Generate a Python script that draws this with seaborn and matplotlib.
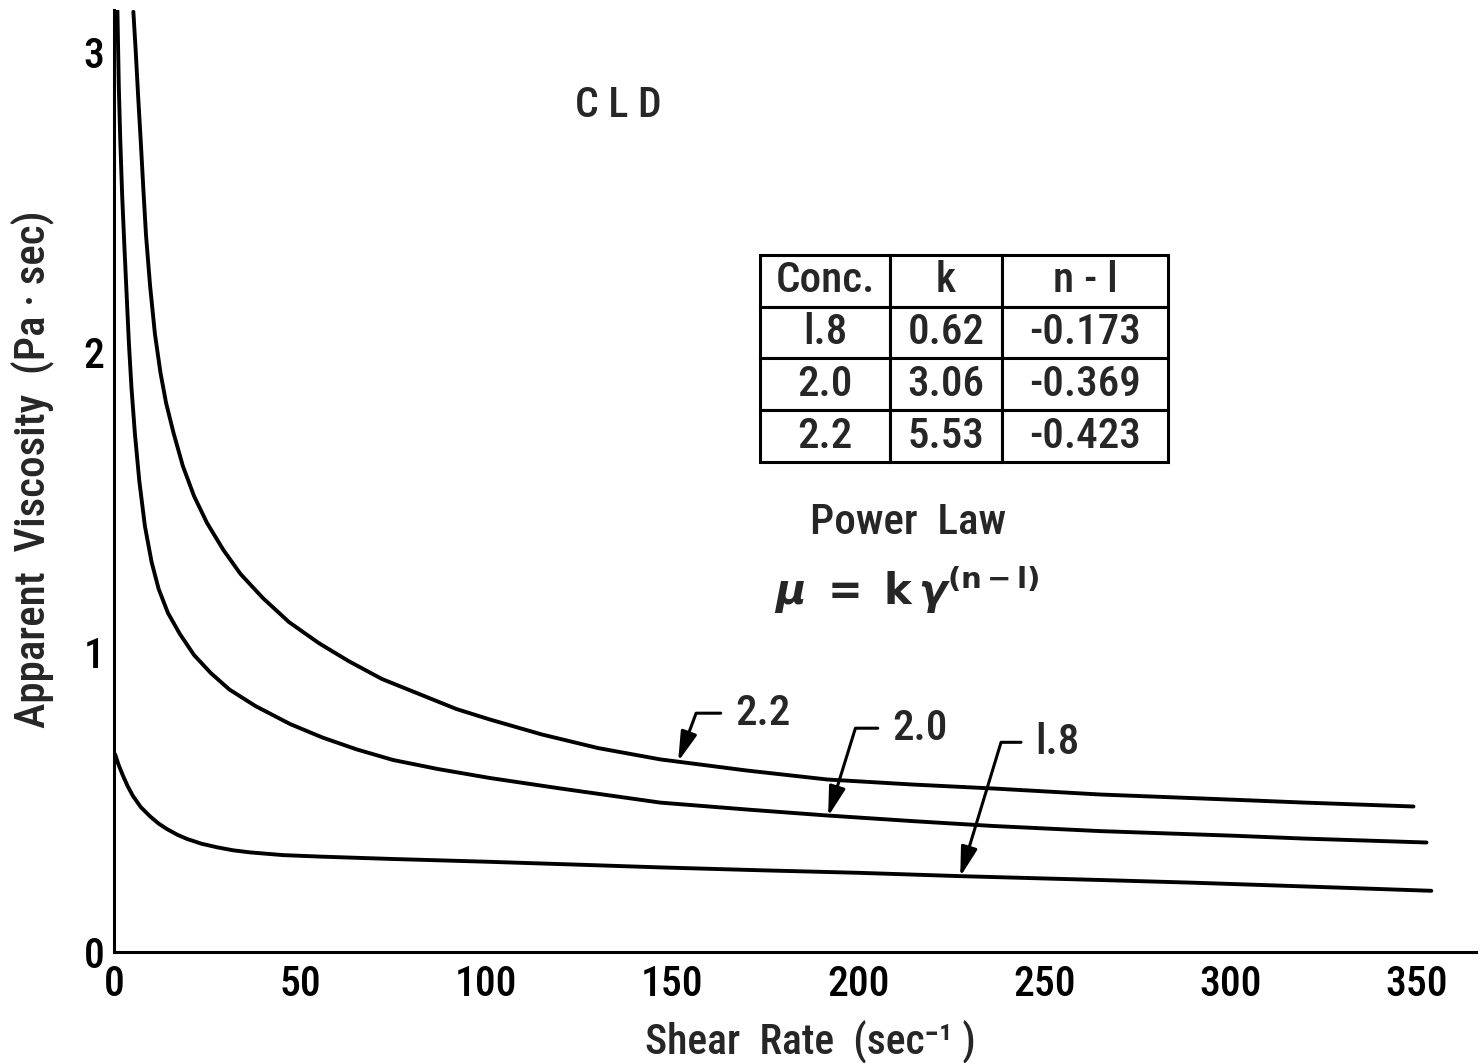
import numpy as np
import pandas as pd
import matplotlib
matplotlib.use("Agg")
import matplotlib.pyplot as plt
import seaborn as sns
from matplotlib import font_manager as fm

# ---------------- data ----------------
shear_22 = [5.2, 5.8, 6.5, 7.2, 7.9, 8.6, 9.7, 11.0, 12.5, 14.0, 16.0, 18.5, 21.5,
            25.0, 29.4, 34, 40, 47, 55, 63, 72, 82, 92, 101, 115, 130, 146.8, 170,
            191.7, 215, 236.3, 265, 300, 320, 349.2]
visc_22 = [3.134, 3.011, 2.85, 2.70, 2.54, 2.39, 2.22, 2.06, 1.93, 1.83, 1.73, 1.62,
           1.52, 1.43, 1.34, 1.26, 1.18, 1.10, 1.03, 0.97, 0.91, 0.86, 0.81, 0.775,
           0.725, 0.68, 0.642, 0.605, 0.575, 0.558, 0.545, 0.525, 0.508, 0.498, 0.485]

shear_20 = [0.9, 1.3, 1.7, 2.2, 2.8, 3.4, 4.0, 4.7, 5.6, 6.8, 8.3, 10.1, 12.0, 14.5,
            17.7, 21.5, 26, 31, 38, 47.3, 56, 65.3, 75, 87, 101, 120, 146.8, 170,
            191.7, 215, 236.3, 265, 300, 320, 352.7]
visc_20 = [3.15, 2.88, 2.70, 2.52, 2.35, 2.19, 2.03, 1.88, 1.73, 1.57, 1.42, 1.30,
           1.21, 1.13, 1.06, 0.99, 0.93, 0.875, 0.82, 0.76, 0.715, 0.675, 0.64, 0.61,
           0.58, 0.545, 0.498, 0.475, 0.455, 0.436, 0.420, 0.403, 0.388, 0.378, 0.365]

shear_18 = [0.3, 1.2, 2.4, 3.7, 5.1, 7.2, 9.7, 12, 14.2, 17, 19.6, 23.5, 27.7, 32,
            36.6, 45.4, 55.4, 75, 100, 125, 146.8, 175, 200, 227, 265, 290, 318.8, 354]
visc_18 = [0.659, 0.625, 0.588, 0.552, 0.520, 0.483, 0.452, 0.428, 0.410, 0.391,
           0.377, 0.361, 0.349, 0.339, 0.332, 0.323, 0.318, 0.310, 0.301, 0.291,
           0.282, 0.272, 0.264, 0.253, 0.240, 0.231, 0.219, 0.204]

x_ticks = [0, 50, 100, 150, 200, 250, 300, 350]
y_ticks = [0, 1, 2, 3]

table_header = ["Conc.", "k", "n - l"]
table_conc = ["l.8", "2.0", "2.2"]
table_k = ["0.62", "3.06", "5.53"]
table_n = ["-0.173", "-0.369", "-0.423"]

curve_labels = ["2.2", "2.0", "l.8"]
label_shear = [166.9, 209.1, 247.6]
label_visc = [0.796, 0.746, 0.699]
tip_shear = [151.6, 191.9, 227.4]
tip_visc = [0.635, 0.452, 0.251]
leader_angle = [69.6, 72.8, 73.1]

# ---------------- style ----------------
sns.set_style("white")
cands = ["Liberation Sans Narrow", "Roboto Condensed", "DejaVu Sans"]
avail = {f.name for f in fm.fontManager.ttflist}
FONT = next(f for f in cands if f in avail)
narrow = FONT != "DejaVu Sans"
FS = 30 if narrow else 25
weights = {str(f.weight) for f in fm.fontManager.ttflist if f.name == FONT}
if "500" in weights or "medium" in weights:
    WEIGHT = "medium"
elif "600" in weights or "semibold" in weights:
    WEIGHT = "semibold"
else:
    WEIGHT = "bold"

plt.rcParams["font.family"] = [FONT, "DejaVu Sans"]
plt.rcParams["font.weight"] = WEIGHT
plt.rcParams["axes.labelweight"] = WEIGHT
plt.rcParams["mathtext.fontset"] = "dejavusans"
plt.rcParams["mathtext.default"] = "it"

fig = plt.figure(figsize=(14.8, 10.63), dpi=100)
ax = fig.add_axes([114 / 1480, 111 / 1063, 1362 / 1480, 942 / 1063])

df = pd.concat([
    pd.DataFrame({"shear": shear_18, "visc": visc_18, "conc": "1.8"}),
    pd.DataFrame({"shear": shear_20, "visc": visc_20, "conc": "2.0"}),
    pd.DataFrame({"shear": shear_22, "visc": visc_22, "conc": "2.2"}),
], ignore_index=True)

sns.lineplot(data=df, x="shear", y="visc", hue="conc",
             palette={"1.8": "black", "2.0": "black", "2.2": "black"},
             linewidth=2.8, legend=False, sort=False, estimator=None, ax=ax)

ax.set_xlim(0, 366)
ax.set_ylim(0, 3.14)
ax.set_xticks(x_ticks)
ax.set_xticklabels([str(v) for v in x_ticks])
ax.set_yticks(y_ticks)
ax.set_yticklabels([str(v) for v in y_ticks])
for s in ["top", "right"]:
    ax.spines[s].set_visible(False)
for s in ["left", "bottom"]:
    ax.spines[s].set_linewidth(2.2)
    ax.spines[s].set_color("black")
ax.tick_params(axis="both", direction="in", length=22, width=1.6,
               labelsize=FS, colors="black")
ax.tick_params(axis="x", pad=9)
ax.tick_params(axis="y", pad=7)

ax.set_xlabel("Shear  Rate  (sec\u207b\u00b9 )", fontsize=FS, fontweight=WEIGHT)
ax.set_ylabel("Apparent  Viscosity  (Pa · sec)", fontsize=FS + 1, fontweight=WEIGHT)
ax.xaxis.set_label_coords(0.511, -0.072)
ax.yaxis.set_label_coords(-0.044, 0.512)

# title-ish label
ax.text(135.5, 2.823, "C L D", ha="center", va="center", fontsize=FS)

# table
cell_text = [[c, k, n] for c, k, n in zip(table_conc, table_k, table_n)]
tbl = ax.table(cellText=cell_text, colLabels=table_header, cellLoc="center",
               bbox=[0.4743, 0.5202, 0.2996, 0.2197],
               colWidths=[0.3186, 0.2745, 0.4069])
tbl.auto_set_font_size(False)
tbl.set_fontsize(FS + 1)
for _, cell in tbl.get_celld().items():
    cell.set_linewidth(2.2)
    cell.set_edgecolor("black")
    cell.set_facecolor("white")
    cell.get_text().set_fontfamily([FONT, "DejaVu Sans"])
    cell.get_text().set_fontweight(WEIGHT)

ax.text(213.4, 1.433, "Power  Law", ha="center", va="center", fontsize=FS + 1)
ax.text(213.2, 1.207,
        r"$\boldsymbol{\mu}\ \mathbf{=}\ \mathbf{k}\,\boldsymbol{\gamma}^{\mathbf{(n-l)}}$",
        ha="center", va="center", fontsize=FS)

for lab, xt, yt, xp, yp, ang in zip(curve_labels, label_shear, label_visc,
                                     tip_shear, tip_visc, leader_angle):
    ax.annotate(lab, xy=(xp, yp), xytext=(xt, yt), ha="left", va="center",
                fontsize=FS + 1,
                arrowprops=dict(arrowstyle="-|>,head_length=0.9,head_width=0.25",
                                mutation_scale=20,
                                connectionstyle=f"angle,angleA=0,angleB={ang},rad=0",
                                relpos=(0, 0.5), shrinkA=8, shrinkB=0,
                                color="black", lw=2.2))

fig.savefig("out.png", dpi=100)
